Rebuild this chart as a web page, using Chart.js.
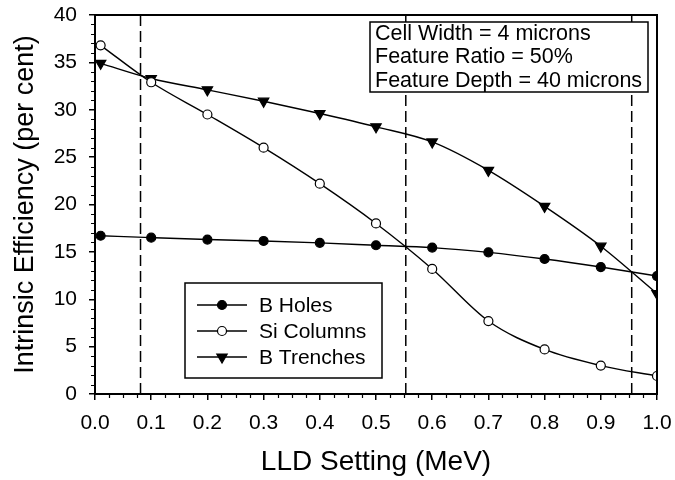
<!DOCTYPE html>
<html>
<head>
<meta charset="utf-8">
<script src="https://cdn.jsdelivr.net/npm/chart.js@4/dist/chart.umd.min.js"></script>
<style>
  html, body { margin: 0; padding: 0; background: #fff; }
  #wrap { width: 675px; height: 480px; }
</style>
</head>
<body>
<div id="wrap"><canvas id="effChart" width="675" height="480"></canvas></div>
<script>
// LLD settings (MeV) and efficiencies (per cent)
var lld = [0.01, 0.1, 0.2, 0.3, 0.4, 0.5, 0.6, 0.7, 0.8, 0.9, 1.0];
var bHoles = [16.7, 16.5, 16.3, 16.15, 15.95, 15.7, 15.45, 14.95, 14.25, 13.4, 12.45];
var siColumns = [36.8, 32.9, 29.5, 26.0, 22.2, 18.0, 13.2, 7.7, 4.7, 3.0, 1.9];
var bTrenches = [34.9, 33.3, 32.1, 30.9, 29.6, 28.2, 26.6, 23.6, 19.8, 15.6, 10.6];

// dashed LLD cut positions
var cuts = [0.081, 0.553, 0.955];

var infoLines = ['Cell Width = 4 microns', 'Feature Ratio = 50%', 'Feature Depth = 40 microns'];

var FONT = '"Liberation Sans", Arial, sans-serif';

function pts(ys) {
    return lld.map(function (x, i) { return { x: x, y: ys[i] }; });
}

var series = [
    { label: 'B Holes', data: bHoles, style: 'circle', fill: '#000', rot: 0, r: 4.5 },
    { label: 'Si Columns', data: siColumns, style: 'circle', fill: '#fff', rot: 0, r: 4.5 },
    { label: 'B Trenches', data: bTrenches, style: 'triangle', fill: '#000', rot: 180, r: 6 }
];

var datasets = series.map(function (s) {
    return {
        label: s.label,
        data: pts(s.data),
        borderColor: '#000',
        borderWidth: 1.4,
        pointStyle: s.style,
        pointRotation: s.rot,
        pointRadius: s.r,
        pointBackgroundColor: s.fill,
        pointBorderColor: '#000',
        pointBorderWidth: 1.2,
        cubicInterpolationMode: 'monotone',
        order: 1
    };
});

cuts.forEach(function (c) {
    datasets.push({
        label: '',
        data: [{ x: c, y: 0 }, { x: c, y: 40 }],
        borderColor: '#000',
        borderWidth: 1.5,
        borderDash: [11, 5],
        pointRadius: 0,
        order: 2
    });
});

function drawMarker(ctx, s, x, y) {
    ctx.save();
    ctx.lineWidth = 1.2;
    ctx.strokeStyle = '#000';
    ctx.fillStyle = s.fill;
    ctx.beginPath();
    if (s.style === 'circle') {
        ctx.arc(x, y, s.r, 0, Math.PI * 2);
    } else {
        var r = s.r;
        ctx.moveTo(x, y + r);
        ctx.lineTo(x - r * 0.866, y - r * 0.5);
        ctx.lineTo(x + r * 0.866, y - r * 0.5);
        ctx.closePath();
    }
    ctx.fill();
    ctx.stroke();
    ctx.restore();
}

// frame, minor ticks, legend box and the parameter box
var extras = {
    id: 'extras',
    afterDraw: function (chart) {
        var ctx = chart.ctx;
        var a = chart.chartArea;
        var xs = chart.scales.x, ys = chart.scales.y;
        ctx.save();
        ctx.strokeStyle = '#000';
        ctx.lineWidth = 2;
        ctx.strokeRect(a.left, a.top, a.right - a.left, a.bottom - a.top);

        ctx.lineWidth = 1.2;
        ctx.beginPath();
        for (var i = 0; i <= 40; i++) {
            if (i % 5 === 0) continue;
            var py = Math.round(ys.getPixelForValue(i)) + 0.5;
            ctx.moveTo(a.left, py);
            ctx.lineTo(a.left - 4, py);
        }
        for (var j = 0; j <= 40; j++) {
            if (j % 4 === 0) continue;
            var px = Math.round(xs.getPixelForValue(j * 0.025)) + 0.5;
            ctx.moveTo(px, a.bottom);
            ctx.lineTo(px, a.bottom + 4);
        }
        ctx.stroke();

        // legend
        var lx = 185, ly = 283, lw = 197, lh = 95;
        ctx.fillStyle = '#fff';
        ctx.fillRect(lx, ly, lw, lh);
        ctx.lineWidth = 1.5;
        ctx.strokeRect(lx, ly, lw, lh);
        ctx.font = '21px ' + FONT;
        ctx.textBaseline = 'middle';
        series.forEach(function (s, k) {
            var cy = 305 + k * 26;
            ctx.lineWidth = 1.4;
            ctx.beginPath();
            ctx.moveTo(lx + 12, cy);
            ctx.lineTo(lx + 62, cy);
            ctx.stroke();
            drawMarker(ctx, s, lx + 37, cy);
            ctx.fillStyle = '#000';
            ctx.fillText(s.label, lx + 74, cy + 1);
        });

        // parameter box
        var bx = 370, by = 22, bw = 278, bh = 70;
        ctx.fillStyle = '#fff';
        ctx.fillRect(bx, by, bw, bh);
        ctx.lineWidth = 1.5;
        ctx.strokeRect(bx, by, bw, bh);
        ctx.fillStyle = '#000';
        ctx.font = '21.5px ' + FONT;
        infoLines.forEach(function (t, k) {
            ctx.fillText(t, bx + 5, 34 + k * 23.5);
        });
        ctx.restore();
    }
};

new Chart(document.getElementById('effChart').getContext('2d'), {
    type: 'line',
    data: { datasets: datasets },
    plugins: [extras],
    options: {
        responsive: false,
        animation: false,
        layout: { padding: { top: 15, right: 18, left: 0, bottom: 0 } },
        plugins: { legend: { display: false }, tooltip: { enabled: false } },
        scales: {
            x: {
                type: 'linear',
                min: 0, max: 1,
                afterFit: function (scale) {
                    scale.height = 86;
                    scale.paddingLeft = 0;
                    scale.paddingRight = 0;
                },
                ticks: {
                    stepSize: 0.1,
                    padding: 11,
                    color: '#000',
                    font: { family: FONT, size: 21 },
                    callback: function (v) { return v.toFixed(1); }
                },
                grid: { drawOnChartArea: false, tickLength: 6, color: '#000', lineWidth: 1.5 },
                border: { color: '#000', width: 2 },
                title: {
                    display: true,
                    text: 'LLD Setting (MeV)',
                    color: '#000',
                    font: { family: FONT, size: 28 },
                    padding: { top: 0, bottom: 1 }
                }
            },
            y: {
                min: 0, max: 40,
                afterFit: function (scale) {
                    scale.width = 95;
                    scale.paddingTop = 0;
                    scale.paddingBottom = 0;
                },
                ticks: {
                    stepSize: 5,
                    padding: 12,
                    color: '#000',
                    font: { family: FONT, size: 21 }
                },
                grid: { drawOnChartArea: false, tickLength: 6, color: '#000', lineWidth: 1.5 },
                border: { color: '#000', width: 2 },
                title: {
                    display: true,
                    text: 'Intrinsic Efficiency (per cent)',
                    color: '#000',
                    font: { family: FONT, size: 27 },
                    padding: { top: 9, bottom: 0 }
                }
            }
        }
    }
});
</script>
</body>
</html>
